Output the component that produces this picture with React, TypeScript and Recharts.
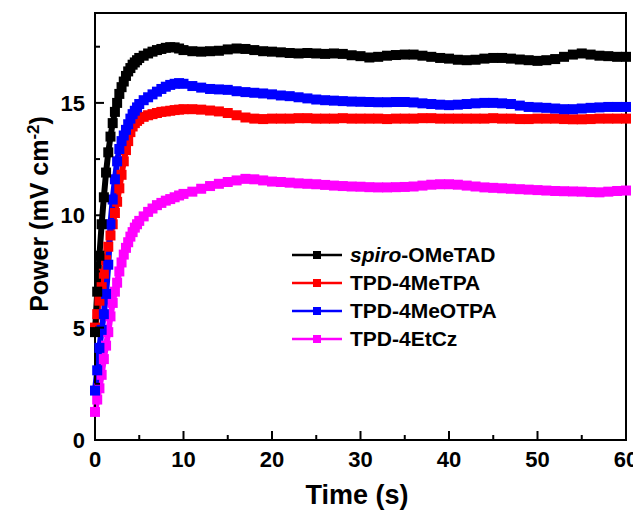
import React from "react";
import {
  LineChart,
  Line,
  XAxis,
  YAxis,
  ReferenceArea,
} from "recharts";

const TIME = [
  0, 0.25, 0.5, 0.75, 1, 1.25, 1.5, 1.75, 2, 2.25, 2.5, 2.75, 3, 3.25, 3.5, 3.75, 4, 4.25, 4.5, 4.75, 5,
  5.5, 6, 6.5, 7, 7.5, 8, 8.5, 9, 9.5, 10,
  11, 12, 13, 14, 15, 16, 17, 18, 19, 20,
  21, 22, 23, 24, 25, 26, 27, 28, 29, 30,
  31, 32, 33, 34, 35, 36, 37, 38, 39, 40,
  41, 42, 43, 44, 45, 46, 47, 48, 49, 50,
  51, 52, 53, 54, 55, 56, 57, 58, 59, 60,
];

const SPIRO = [
  4.8, 6.6, 8.2, 9.6, 10.8, 11.9, 12.8, 13.5, 14.1, 14.6, 15.0, 15.4, 15.7, 15.95, 16.2, 16.4, 16.55, 16.7, 16.8, 16.9, 17.0,
  17.1, 17.2, 17.28, 17.35, 17.4, 17.45, 17.48, 17.47, 17.42, 17.35,
  17.3, 17.28, 17.3, 17.32, 17.38, 17.42, 17.4, 17.35, 17.3, 17.28,
  17.25, 17.22, 17.2, 17.22, 17.2, 17.18, 17.2, 17.18, 17.12, 17.08,
  17.02, 17.05, 17.1, 17.13, 17.15, 17.15, 17.1, 17.05, 17.0, 16.97,
  16.92, 16.9, 16.92, 16.97, 17.0, 17.0, 16.97, 16.93, 16.9, 16.87,
  16.9, 16.95, 17.05, 17.15, 17.2, 17.15, 17.1, 17.08, 17.05, 17.05,
];

const ME_TPA = [
  5.0, 5.6, 6.2, 6.8, 7.4, 8.0, 8.6, 9.1, 9.6, 10.1, 10.6, 11.2, 11.8, 12.4, 12.9, 13.3, 13.7, 13.95, 14.1, 14.2, 14.28,
  14.38, 14.45, 14.5, 14.55, 14.6, 14.62, 14.65, 14.68, 14.7, 14.72,
  14.72, 14.7, 14.66, 14.62, 14.55, 14.45, 14.35, 14.3, 14.28, 14.3,
  14.3, 14.3, 14.32, 14.32, 14.3, 14.3, 14.3, 14.32, 14.3, 14.3,
  14.3, 14.3, 14.28, 14.3, 14.3, 14.3, 14.32, 14.32, 14.3, 14.3,
  14.3, 14.3, 14.3, 14.3, 14.32, 14.3, 14.3, 14.28, 14.28, 14.3,
  14.3, 14.3, 14.28, 14.27, 14.27, 14.28, 14.3, 14.3, 14.3, 14.3,
];

const MEO_TPA = [
  2.2, 3.1, 4.1, 4.9, 5.6, 6.5, 7.8, 9.6, 10.7, 11.6, 12.4, 12.95, 13.3, 13.55, 13.8, 14.05, 14.3, 14.5, 14.65, 14.8, 14.95,
  15.12, 15.25, 15.38, 15.5, 15.62, 15.72, 15.8, 15.85, 15.88, 15.85,
  15.75, 15.68, 15.62, 15.6, 15.58, 15.52, 15.48, 15.45, 15.42, 15.38,
  15.33, 15.3, 15.25, 15.2, 15.15, 15.12, 15.1, 15.08, 15.06, 15.05,
  15.04, 15.03, 15.03, 15.04, 15.04, 15.02, 14.98, 14.95, 14.92, 14.9,
  14.92, 14.95, 14.98, 15.0, 15.0, 14.98, 14.95, 14.88, 14.82, 14.8,
  14.78, 14.75, 14.72, 14.72, 14.75, 14.78, 14.8, 14.82, 14.82, 14.82,
];

const ET_CZ = [
  1.25, 1.8, 2.3, 2.9, 3.6, 4.2, 4.8, 5.5, 6.1, 6.6, 7.0, 7.5, 7.9, 8.25, 8.55, 8.8, 9.05, 9.25, 9.45, 9.6, 9.75,
  9.95, 10.15, 10.3, 10.45, 10.55, 10.65, 10.72, 10.8, 10.88, 10.95,
  11.05, 11.18, 11.3, 11.4, 11.48, 11.55, 11.62, 11.6, 11.55, 11.5,
  11.48, 11.45, 11.42, 11.4, 11.38, 11.35, 11.32, 11.3, 11.28, 11.27,
  11.25, 11.24, 11.24, 11.25, 11.26, 11.28, 11.32, 11.36, 11.38, 11.38,
  11.36, 11.32, 11.28, 11.24, 11.22, 11.2, 11.18, 11.16, 11.14, 11.12,
  11.1, 11.08, 11.07, 11.06, 11.05, 11.03, 11.02, 11.05, 11.08, 11.1,
];

const X_TICKS = [0, 5, 10, 15, 20, 25, 30, 35, 40, 45, 50, 55, 60];
const Y_TICKS = [0, 2.5, 5, 7.5, 10, 12.5, 15, 17.5];

const SERIES = [
  { key: "etcz", name: "TPD-4EtCz", color: "#ff00ff", values: ET_CZ },
  { key: "metpa", name: "TPD-4MeTPA", color: "#ff0000", values: ME_TPA },
  { key: "meotpa", name: "TPD-4MeOTPA", color: "#0000ff", values: MEO_TPA },
  { key: "spiro", name: "spiro-OMeTAD", color: "#000000", values: SPIRO },
];
const LEGEND_ORDER = ["spiro", "metpa", "meotpa", "etcz"];

const FONT = "'Liberation Sans', Arial, sans-serif";
const TICK_MARGIN = 10;

const data = TIME.map((t, i) => {
  const row: Record<string, number> = { t };
  SERIES.forEach((s) => (row[s.key] = s.values[i]));
  return row;
});

function XTick(props: any) {
  const { x, y, payload } = props;
  const v = payload.value;
  const major = v % 10 === 0;
  const axisY = y - TICK_MARGIN;
  return (
    <g>
      <line x1={x} x2={x} y1={axisY} y2={axisY - (major ? 9 : 5)} stroke="#000" strokeWidth={2} />
      {major && (
        <text x={x} y={y} dy="0.75em" textAnchor="middle" fontFamily={FONT} fontWeight="bold" fontSize={22} fill="#000">
          {v}
        </text>
      )}
    </g>
  );
}

function YTick(props: any) {
  const { x, y, payload } = props;
  const v = payload.value;
  const major = v % 5 === 0;
  const axisX = x + TICK_MARGIN;
  return (
    <g>
      <line x1={axisX} x2={axisX + (major ? 9 : 5)} y1={y} y2={y} stroke="#000" strokeWidth={2} />
      {major && (
        <text x={x} y={y} dy="0.36em" textAnchor="end" fontFamily={FONT} fontWeight="bold" fontSize={22} fill="#000">
          {v}
        </text>
      )}
    </g>
  );
}

function squareDot(color: string, name: string) {
  return (props: any) => {
    const { cx, cy, index } = props;
    if (cx == null || cy == null) return <g key={`${name}-${index}`} />;
    return <rect key={`${name}-${index}`} x={cx - 5} y={cy - 5} width={10} height={10} fill={color} />;
  };
}

function LegendBox() {
  return (
    <div
      style={{
        position: "absolute",
        left: 284,
        top: 233,
        fontFamily: FONT,
        fontWeight: "bold",
        fontSize: 21,
        color: "#000",
        lineHeight: "28px",
        whiteSpace: "nowrap",
      }}
    >
      {LEGEND_ORDER.map((k) => {
        const s = SERIES.find((x) => x.key === k)!;
        return (
          <div key={k} style={{ display: "flex", alignItems: "center", height: 28 }}>
            <svg width={52} height={14} style={{ marginRight: 6 }}>
              <line x1={0} x2={50} y1={7} y2={7} stroke={s.color} strokeWidth={2.5} />
              <rect x={21} y={3} width={8} height={8} fill={s.color} />
            </svg>
            {k === "spiro" ? (
              <span>
                <i>spiro</i>-OMeTAD
              </span>
            ) : (
              <span>{s.name}</span>
            )}
          </div>
        );
      })}
    </div>
  );
}

export default function App() {
  return (
    <div style={{ position: "relative", width: 633, height: 505 }}>
      <LineChart width={633} height={497} data={data} margin={{ top: 5, right: 15, left: 0, bottom: 0 }}>
        <XAxis
          dataKey="t"
          type="number"
          domain={[0, 60]}
          ticks={X_TICKS}
          tickSize={0}
          tickMargin={TICK_MARGIN}
          tick={<XTick />}
          height={65}
          axisLine={{ stroke: "#000", strokeWidth: 2 }}
          tickLine={false}
          interval={0}
        />
        <YAxis
          type="number"
          domain={[0, 19]}
          ticks={Y_TICKS}
          tickSize={0}
          tickMargin={TICK_MARGIN}
          tick={<YTick />}
          width={87}
          axisLine={{ stroke: "#000", strokeWidth: 2 }}
          tickLine={false}
          interval={0}
        />
        <ReferenceArea x1={0} x2={60} y1={0} y2={19} fill="none" stroke="#000" strokeWidth={2} />
        {SERIES.map((s) => (
          <Line
            key={s.key}
            dataKey={s.key}
            name={s.name}
            stroke={s.color}
            strokeWidth={6}
            dot={squareDot(s.color, s.key)}
            activeDot={false}
            isAnimationActive={false}
            type="linear"
          />
        ))}
      </LineChart>
      <LegendBox />
      <svg
        width={633}
        height={505}
        style={{ position: "absolute", left: 0, top: 0, pointerEvents: "none" }}
      >
        <text
          transform="translate(40, 206) rotate(-90)"
          textAnchor="middle"
          fontFamily={FONT}
          fontWeight="bold"
          fontSize={25}
          fill="#000"
        >
          Power (mV cm
          <tspan dy={-9} fontSize={17}>-2</tspan>
          <tspan dy={9}>)</tspan>
        </text>
        <text x={349} y={496} textAnchor="middle" fontFamily={FONT} fontWeight="bold" fontSize={27} fill="#000">
          Time (s)
        </text>
      </svg>
    </div>
  );
}
